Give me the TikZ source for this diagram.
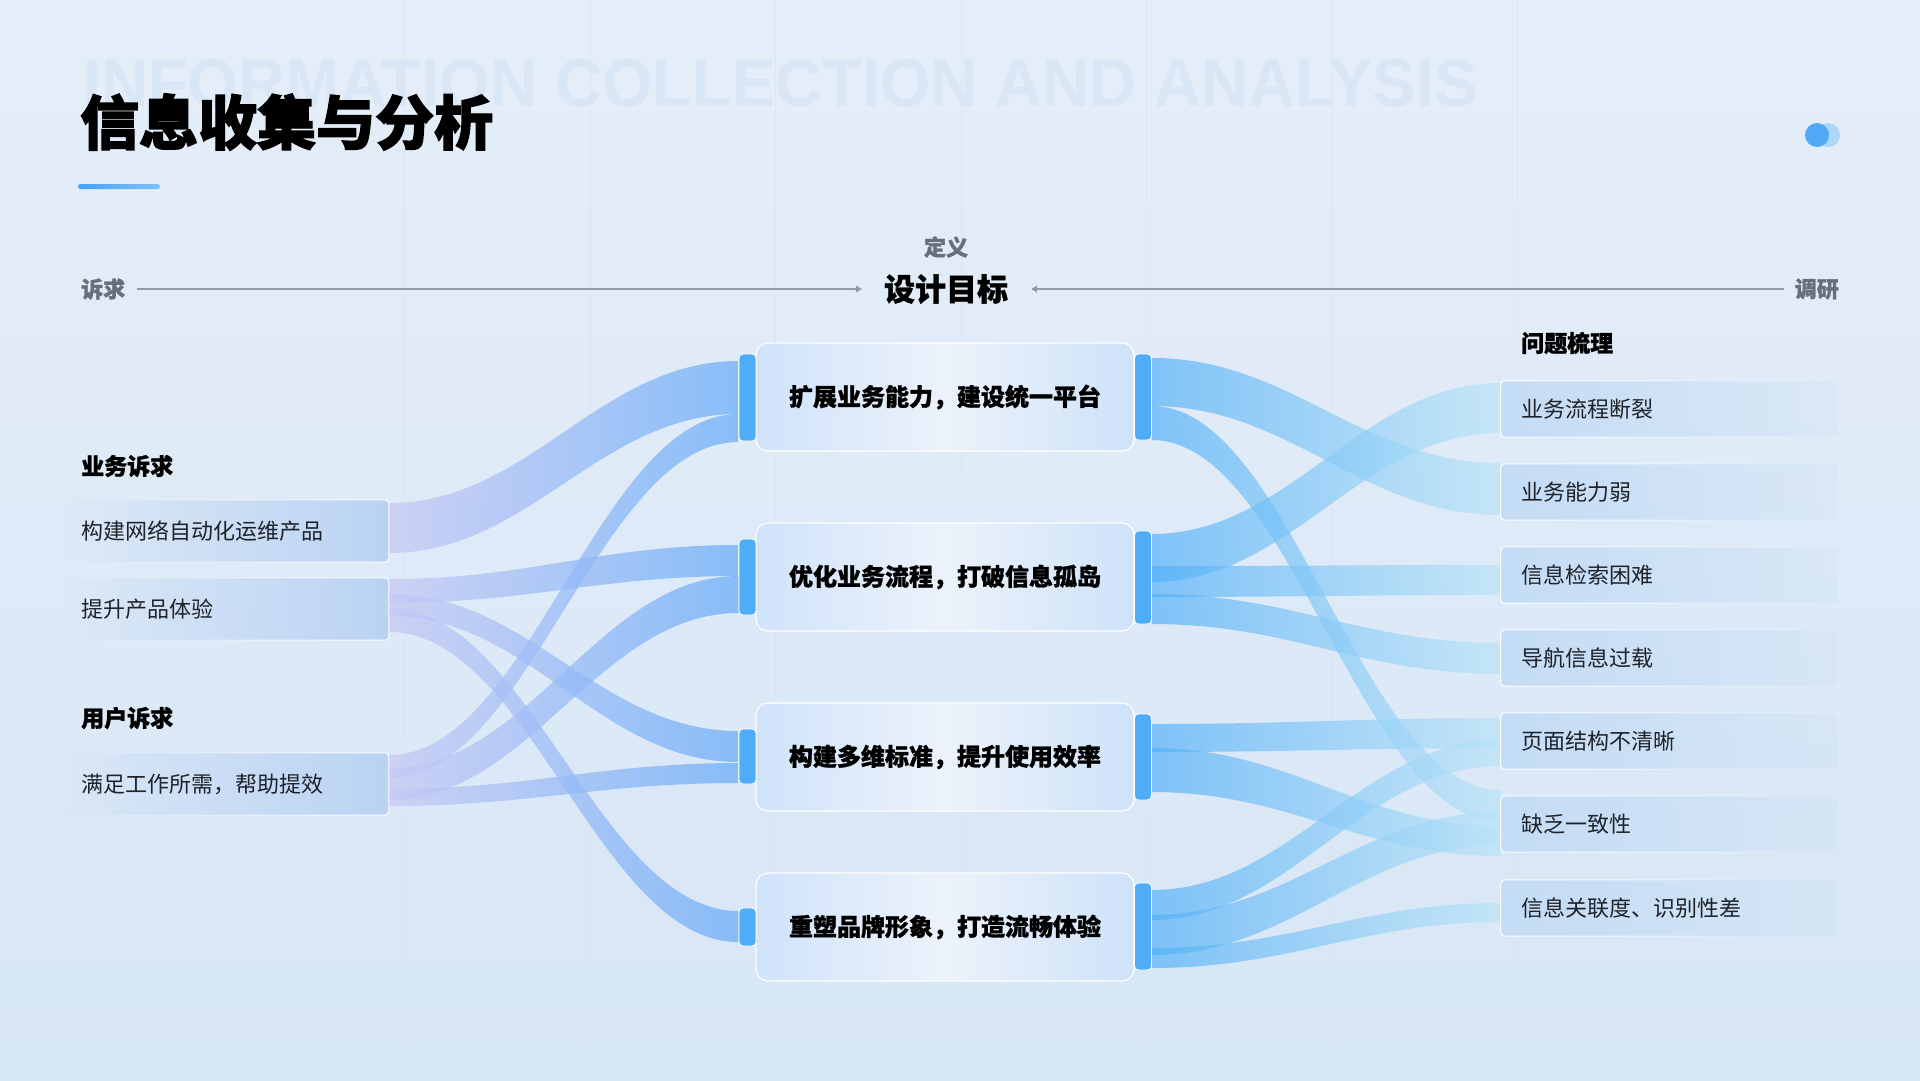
\documentclass[tikz,border=0pt]{standalone}
\usepackage{fontspec}
\usepackage{graphicx}
\setmainfont{Noto Sans CJK SC}
\newfontfamily\heavy{Noto Sans CJK SC}[BoldFeatures={FakeBold=1.2}]
\newfontfamily\heavyx{Noto Sans CJK SC}[BoldFeatures={FakeBold=2.2}]
\newfontfamily\wmfont{Liberation Sans}
\usetikzlibrary{fadings,arrows.meta}
\pgfdeclarelayer{back}
\pgfdeclarelayer{mid}
\pgfsetlayers{back,mid,main}
\definecolor{bgtop}{RGB}{229,238,248}
\definecolor{bgbot}{RGB}{215,230,246}
\definecolor{wmc}{RGB}{214,228,244}
\definecolor{vline}{RGB}{214,225,238}
\definecolor{accent}{RGB}{72,163,245}
\definecolor{axisc}{RGB}{150,156,166}
\definecolor{graytxt}{RGB}{104,110,122}
\definecolor{txt}{RGB}{30,34,42}
\definecolor{tabblue}{RGB}{79,173,248}
\definecolor{cbl}{RGB}{208,227,250}
\definecolor{cbm}{RGB}{236,242,250}
\definecolor{cbr}{RGB}{206,226,249}
\definecolor{lboxc}{RGB}{186,211,243}
\definecolor{rboxc}{RGB}{196,220,245}
\definecolor{lribl}{RGB}{198,200,244}
\definecolor{lribr}{RGB}{104,172,248}
\definecolor{rribl}{RGB}{82,176,248}
\definecolor{rribr}{RGB}{186,228,246}
\tikzfading[name=fadeR, left color=transparent!100, right color=transparent!0]
\tikzfading[name=fadeL, left color=transparent!0, right color=transparent!85]
\tikzfading[name=fadeW, left color=transparent!30, right color=transparent!70]
% ribbon: #1 start anchor, #2/#3 top/bottom y at start, #4 end anchor, #5/#6 top/bottom y at end, #7/#8 control x, #9 style
\newcommand\rib[9]{%
  \shade[#9] (#1 |- 0,#2) .. controls (#7,#2) and (#8,#5) .. (#4 |- 0,#5)
    -- (#4 |- 0,#6) .. controls (#8,#6) and (#7,#3) .. (#1 |- 0,#3) -- cycle;}
\begin{document}
\begin{tikzpicture}[x=1pt,y=-1pt,
  cbox/.style={rounded corners=12pt, minimum width=378pt, minimum height=108pt,
    left color=cbl, right color=cbr, middle color=cbm, draw=white, line width=1.2pt,
    font=\heavy\bfseries\fontsize{24}{24}\selectfont, text=black},
  tabbox/.style={rounded corners=4pt, fill=tabblue, draw=white, line width=0.8pt,
    minimum width=17pt, inner sep=0pt},
  lanchor/.style={minimum width=329pt, minimum height=62pt, inner sep=0pt},
  ranchor/.style={minimum width=338pt, minimum height=56pt, inner sep=0pt},
  lfill/.style={fill=lboxc, draw=white, line width=1pt, rounded corners=4pt, path fading=fadeR, fit fading=true},
  rfill/.style={fill=rboxc, draw=white, line width=1pt, rounded corners=4pt, path fading=fadeL, fit fading=true},
  itemtxt/.style={anchor=west, inner sep=0pt, text=txt, font=\fontsize{22}{22}\selectfont},
  hdr/.style={anchor=west, inner sep=0pt, text=black, font=\heavy\bfseries\fontsize{23}{23}\selectfont},
  graylbl/.style={inner sep=0pt, text=graytxt, font=\heavy\bfseries\fontsize{22}{22}\selectfont},
  axisline/.style={draw=axisc, line width=1.1pt, -{Triangle[width=7pt,length=6pt]}},
  lrib/.style={left color=lribl, right color=lribr, fill opacity=0.72},
  rrib/.style={left color=rribl, right color=rribr, fill opacity=0.68}
]
\useasboundingbox (0,0) rectangle (1920,1080);
% ---------- background ----------
\begin{pgfonlayer}{back}
\shade[top color=bgtop, bottom color=bgbot] (0,0) rectangle (1920,1080);
\foreach \vx in {404,590,775,961,1146,1332,1517}
  \draw[vline, line width=1pt, opacity=0.5] (\vx,0) -- (\vx,1080);
\node[anchor=south west, inner sep=0pt, text=wmc, text opacity=0.75] (wm) at (83,107)
  {\resizebox{1394pt}{47pt}{\wmfont\bfseries INFORMATION COLLECTION AND ANALYSIS}};
\end{pgfonlayer}
% ---------- title ----------
\node[anchor=west, inner sep=0pt, text=black, font=\heavyx\bfseries\fontsize{59}{59}\selectfont] (title) at (80,122) {信息收集与分析};
\shade[left color=accent, right color=accent!70!white, rounded corners=2.5pt] (78,184) rectangle (160,189);
\fill[accent!45!white] (1828,135) circle (12pt);
\fill[accent!95!white] (1817,135) circle (12pt);
% ---------- axis ----------
\node[graylbl, anchor=west] (sq) at (81,289) {诉求};
\node[graylbl, anchor=east] (dy) at (1839,289) {调研};
\node[inner sep=0pt, text=black, font=\heavy\bfseries\fontsize{31}{31}\selectfont] (goal) at (946,289) {设计目标};
\node[graylbl] (def) at (946,247) {定义};
\draw[axisline, shorten <=12pt, shorten >=22pt] (sq.east) -- (goal.west);
\draw[axisline, shorten <=11pt, shorten >=23pt] (dy.west) -- (goal.east);
% ---------- left column ----------
\node[hdr] (h1) at (81,466) {业务诉求};
\node[hdr] (h2) at (81,718) {用户诉求};
\node[lanchor] (L1) at (224.5,531) {};
\node[lanchor] (L2) at (224.5,609) {};
\node[lanchor] (L3) at (224.5,784) {};
\path[lfill] (L1.south west) rectangle (L1.north east);
\path[lfill] (L2.south west) rectangle (L2.north east);
\path[lfill] (L3.south west) rectangle (L3.north east);
\node[itemtxt] (L1t) at (81,531) {构建网络自动化运维产品};
\node[itemtxt] (L2t) at (81,609) {提升产品体验};
\node[itemtxt] (L3t) at (81,784) {满足工作所需，帮助提效};
% ---------- centre column ----------
\node[cbox] (B1) at (945,397) {扩展业务能力，建设统一平台};
\node[cbox] (B2) at (945,577) {优化业务流程，打破信息孤岛};
\node[cbox] (B3) at (945,757) {构建多维标准，提升使用效率};
\node[cbox] (B4) at (945,927) {重塑品牌形象，打造流畅体验};
\node[tabbox, minimum height=87pt] (TL1) at (747.5,397.5) {};
\node[tabbox, minimum height=76pt] (TL2) at (747.5,577) {};
\node[tabbox, minimum height=55pt] (TL3) at (747.5,756.5) {};
\node[tabbox, minimum height=38pt] (TL4) at (747.5,927) {};
\node[tabbox, minimum height=86pt] (TR1) at (1143,397) {};
\node[tabbox, minimum height=93pt] (TR2) at (1143,577.5) {};
\node[tabbox, minimum height=86pt] (TR3) at (1143,757) {};
\node[tabbox, minimum height=87pt] (TR4) at (1143,926.5) {};
% ---------- right column ----------
\node[hdr] (h3) at (1521,343) {问题梳理};
\foreach \i/\cy/\lbl in {1/409/业务流程断裂, 2/492/业务能力弱, 3/575/信息检索困难, 4/658/导航信息过载,
    5/741/页面结构不清晰, 6/824/缺乏一致性, 7/908/{信息关联度、识别性差}}{
  \node[ranchor] (R\i) at (1670,\cy) {};
  \path[rfill] (R\i.south west) rectangle (R\i.north east);
  \node[itemtxt] (R\i t) at (1521,\cy) {\lbl};
}
% ---------- ribbons ----------
\begin{pgfonlayer}{mid}
% left side
\rib{L1.east}{503}{553}{TL1.west}{361}{414}{529}{599}{lrib}
\rib{L3.east}{755}{778}{TL1.west}{414}{442}{529}{599}{lrib}
\rib{L2.east}{579}{603}{TL2.west}{545}{576}{529}{599}{lrib}
\rib{L3.east}{768}{800}{TL2.west}{576}{613}{529}{599}{lrib}
\rib{L2.east}{594}{616}{TL3.west}{731}{762}{529}{599}{lrib}
\rib{L3.east}{789}{806}{TL3.west}{763}{783}{529}{599}{lrib}
\rib{L2.east}{608}{632}{TL4.west}{911}{942}{529}{599}{lrib}
% right side
\rib{TR1.east}{358}{406}{R2.west}{463}{515}{1291}{1361}{rrib}
\rib{TR1.east}{406}{440}{R6.west}{790}{822}{1291}{1361}{rrib}
\rib{TR2.east}{534}{582}{R1.west}{383}{433}{1291}{1361}{rrib}
\rib{TR2.east}{566}{597}{R3.west}{565}{595}{1291}{1361}{rrib}
\rib{TR2.east}{594}{624}{R4.west}{643}{674}{1291}{1361}{rrib}
\rib{TR3.east}{724}{752}{R5.west}{718}{748}{1291}{1361}{rrib}
\rib{TR3.east}{748}{792}{R6.west}{826}{856}{1291}{1361}{rrib}
\rib{TR4.east}{890}{920}{R5.west}{740}{766}{1291}{1361}{rrib}
\rib{TR4.east}{915}{955}{R6.west}{812}{845}{1291}{1361}{rrib}
\rib{TR4.east}{948}{968}{R7.west}{903}{922}{1291}{1361}{rrib}
\end{pgfonlayer}
\end{tikzpicture}
\end{document}
